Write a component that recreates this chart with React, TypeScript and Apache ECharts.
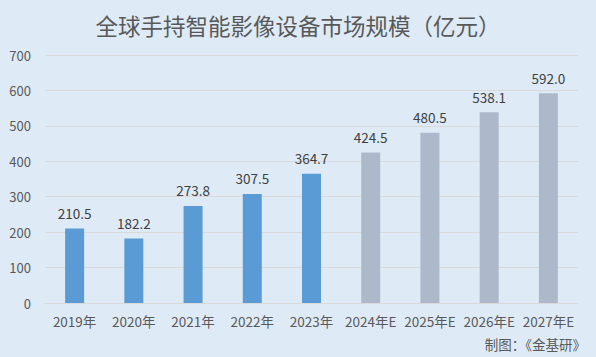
import React, { useEffect, useRef } from "react";
import * as echarts from "echarts";

const categories = ["2019年", "2020年", "2021年", "2022年", "2023年", "2024年E", "2025年E", "2026年E", "2027年E"];
const values = [210.5, 182.2, 273.8, 307.5, 364.7, 424.5, 480.5, 538.1, 592.0];
const isForecast = [false, false, false, false, false, true, true, true, true];
const yTicks = { min: 0, max: 700, interval: 100 };

export default function App() {
  const ref = useRef<HTMLDivElement>(null);
  useEffect(() => {
    if (!ref.current) return;
    const chart = echarts.init(ref.current, null, { renderer: "svg" });
    const font = "'Microsoft YaHei', 'Noto Sans CJK SC', sans-serif";
    chart.setOption({
      animation: false,
      backgroundColor: "#DEEBF7",
      textStyle: { fontFamily: font },
      title: [
        {
          text: "全球手持智能影像设备市场规模（亿元）",
          left: "center",
          top: 9,
          textStyle: { fontSize: 22.5, fontWeight: "normal", color: "#595959", fontFamily: font },
        },
        {
          text: "制图：《金基研》",
          right: 5,
          top: 332,
          textStyle: { fontSize: 13.5, fontWeight: "normal", color: "#595959", fontFamily: font },
        },
      ],
      grid: { left: 45, right: 18, top: 55, bottom: 54 },
      xAxis: {
        type: "category",
        data: categories,
        axisLine: { lineStyle: { color: "#D9D9D9" } },
        axisTick: { show: false },
        axisLabel: { color: "#595959", fontSize: 13.5, margin: 11, interval: 0, fontFamily: font },
      },
      yAxis: {
        type: "value",
        min: yTicks.min,
        max: yTicks.max,
        interval: yTicks.interval,
        axisLine: { show: false },
        axisTick: { show: false },
        splitLine: { lineStyle: { color: "#D9D9D9" } },
        axisLabel: { color: "#595959", fontSize: 13, margin: 14, fontFamily: font },
      },
      series: [
        {
          type: "bar",
          barWidth: 19,
          data: values.map((v, i) => ({
            value: v,
            itemStyle: { color: isForecast[i] ? "#ADB9CA" : "#5B9BD5" },
          })),
          label: {
            show: true,
            position: "top",
            distance: 9,
            color: "#404040",
            fontSize: 13.5,
            fontFamily: font,
            formatter: (p: any) => Number(p.value).toFixed(1),
          },
        },
      ],
    });
    return () => chart.dispose();
  }, []);
  return <div ref={ref} style={{ width: 596, height: 357, position: "fixed", left: 0, top: 0 }} />;
}
